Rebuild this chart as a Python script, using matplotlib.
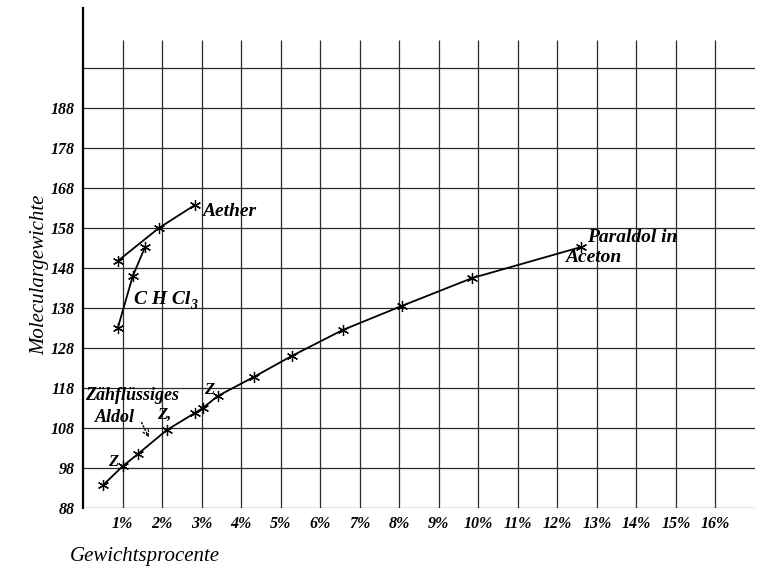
import numpy as np
import matplotlib
matplotlib.use("Agg")
import matplotlib.pyplot as plt

# Paraldol / Aldol in Aceton (main curve)
aldolPercent = [0.51, 1.01, 1.39, 2.12, 2.83, 3.03, 3.41, 4.32, 5.28, 6.57, 8.06, 9.85, 12.6]
aldolWeight = [93.75, 98.5, 101.5, 107.5, 111.75, 113.0, 116.0, 120.75, 126.0, 132.5, 138.5, 145.5, 153.25]

# Aether curve
aetherPercent = [0.88, 1.92, 2.83]
aetherWeight = [149.75, 158.0, 163.75]

# CHCl3 curve
chclPercent = [0.88, 1.26, 1.57]
chclWeight = [133.0, 146.0, 153.25]

yTicks = [88, 98, 108, 118, 128, 138, 148, 158, 168, 178, 188]
gridRows = [88, 98, 108, 118, 128, 138, 148, 158, 168, 178, 188, 198]
xTicks = list(range(1, 17))
xTickLabels = [str(v) + "%" for v in xTicks]

FONT = "Liberation Serif"


def main():
    fig = plt.figure(figsize=(7.66, 5.71), dpi=100)
    ax = fig.add_axes([83 / 766, 63 / 571, 672 / 766, 500 / 571])
    ax.set_xlim(0, 17)
    ax.set_ylim(88, 213)

    drawGrid(ax)
    drawCurves(ax)
    drawLabels(ax, fig)

    fig.savefig("out.png", dpi=100)


def drawGrid(ax):
    # horizontal rows run over the full width, columns stop below the top
    ax.hlines(gridRows, 0, 17, color="#2a2a2a", linewidth=0.9, zorder=1)
    ax.vlines(xTicks, 88, 205, color="#2a2a2a", linewidth=0.9, zorder=1)

    for side in ["top", "right", "bottom"]:
        ax.spines[side].set_visible(False)
    ax.spines["left"].set_linewidth(1.6)

    ax.set_yticks(yTicks)
    ax.set_yticklabels([str(v) for v in yTicks])
    ax.set_xticks(xTicks)
    ax.set_xticklabels(xTickLabels)
    ax.tick_params(length=0, pad=6)
    for lbl in ax.get_xticklabels() + ax.get_yticklabels():
        lbl.set_fontfamily(FONT)
        lbl.set_fontstyle("italic")
        lbl.set_fontweight("bold")
        lbl.set_fontsize(11.5)


def drawCurves(ax):
    style = dict(color="black", linewidth=1.3, marker=(6, 2, 0), markersize=8,
                 markeredgewidth=0.9, zorder=3)
    ax.plot(aldolPercent, aldolWeight, **style)
    ax.plot(aetherPercent, aetherWeight, **style)
    ax.plot(chclPercent, chclWeight, **style)


def drawLabels(ax, fig):
    txt = dict(family=FONT, style="italic", fontweight="bold", fontsize=14, color="black")
    ax.text(3.0, 162.0, "Aether", ha="left", va="center", **txt)
    ax.text(1.3, 140.0, "C H Cl", ha="left", va="center", **txt)
    ax.text(2.72, 138.6, "3", ha="left", va="center", family=FONT, style="italic",
            fontweight="bold", fontsize=10)
    ax.text(12.75, 155.5, "Paraldol in", ha="left", va="center", **txt)
    ax.text(12.2, 150.5, "Aceton", ha="left", va="center", **txt)
    ax.text(0.05, 116.0, "Zähflüssiges", ha="left", va="center",
            **dict(txt, fontsize=13))
    ax.text(0.3, 110.5, "Aldol", ha="left", va="center", **dict(txt, fontsize=13))
    ax.annotate("", xy=(1.7, 105.0), xytext=(1.45, 110.0),
                arrowprops=dict(arrowstyle="->", color="black", linestyle=":", linewidth=1))

    ztxt = dict(family=FONT, style="italic", fontweight="bold", fontsize=12, color="black")
    ax.text(0.75, 99.5, "Z", ha="center", va="center", **ztxt)
    ax.text(2.05, 111.3, "Z,", ha="center", va="center", **ztxt)
    ax.text(3.2, 117.5, "Z", ha="center", va="center", **ztxt)

    fig.text(40 / 766, 1 - 275 / 571, "Moleculargewichte", rotation=90, ha="center",
             va="center", family=FONT, style="italic", fontsize=15)
    fig.text(145 / 766, 1 - 556 / 571, "Gewichtsprocente", ha="center", va="center",
             family=FONT, style="italic", fontsize=15)


main()
